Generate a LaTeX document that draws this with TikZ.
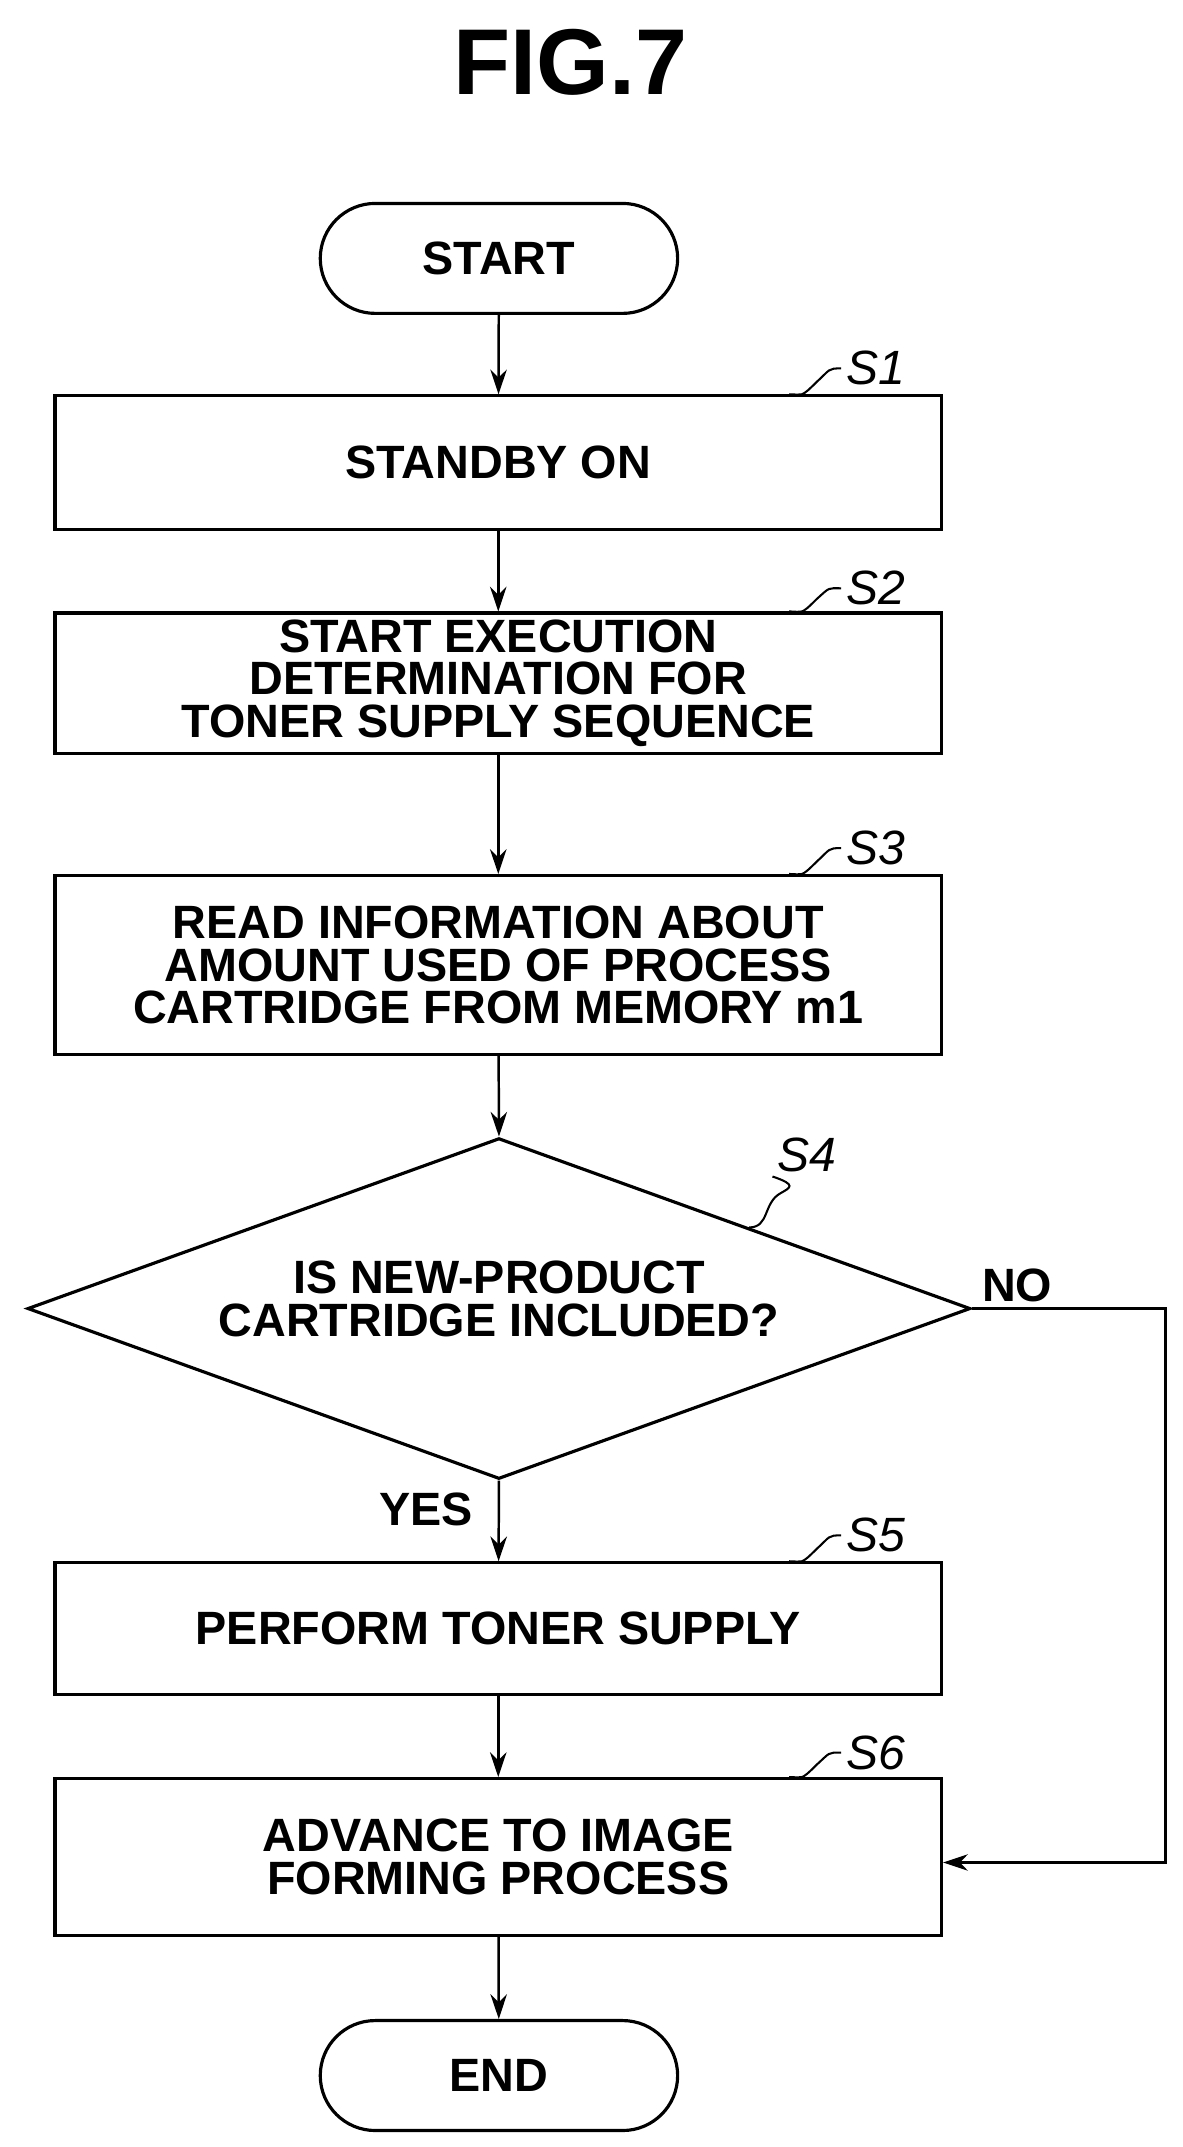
\documentclass[tikz,border=0pt]{standalone}
\usepackage{fontspec}
\setmainfont{Liberation Sans}
\usetikzlibrary{shapes.geometric,arrows.meta}
\begin{document}
\begin{tikzpicture}[x=1pt,y=-1pt,
  every node/.style={font=\fontsize{34}{31}\selectfont\bfseries, align=center},
  box/.style={draw, line width=2.3pt, minimum width=645pt, inner sep=0pt},
  term/.style={draw, line width=2.3pt, rounded corners=40pt, minimum width=260pt, minimum height=80pt},
  lab/.style={font=\fontsize{35}{36}\selectfont\itshape, anchor=west},
  arr/.style={line width=1.8pt, -{Stealth[length=18pt,width=12pt]}},
  sq/.style={line width=1.5pt}]
\useasboundingbox (0,0) rectangle (860,1562);
\node[font=\fontsize{68}{70}\selectfont\bfseries] (title) at (415,45) {FIG.7};
\node[term] (start) at (363,188) {START};
\node[box, minimum height=97pt] (s1) at (362.5,336.5) {STANDBY ON};
\node[box, minimum height=102pt] (s2) at (362.5,497) {START EXECUTION\\DETERMINATION FOR\\TONER SUPPLY SEQUENCE};
\node[box, minimum height=130pt] (s3) at (362.5,702) {READ INFORMATION ABOUT\\AMOUNT USED OF PROCESS\\CARTRIDGE FROM MEMORY m1};
\node[draw, line width=2.3pt, diamond, aspect=2.77, minimum width=686pt, minimum height=248pt, inner sep=0pt] (s4) at (363,952) {};
\node at (363,945) {IS NEW-PRODUCT\\CARTRIDGE INCLUDED?};
\node[box, minimum height=96pt] (s5) at (362.5,1185) {PERFORM TONER SUPPLY};
\node[box, minimum height=114pt] (s6) at (362.5,1351) {ADVANCE TO IMAGE\\FORMING PROCESS};
\node[term] (end) at (363,1510) {END};
\node (no) at (740,935) {NO};
\node (yes) at (310,1098) {YES};
\node[lab] (l1) at (612,268) {S1};
\node[lab] (l2) at (612,428) {S2};
\node[lab] (l3) at (612,617) {S3};
\node[lab] (l4) at (562,840) {S4};
\node[lab] (l5) at (612,1117) {S5};
\node[lab] (l6) at (612,1275) {S6};
\foreach \b/\l in {s1/l1,s2/l2,s3/l3,s5/l5,s6/l6}{
  \draw[sq] ([xshift=-112pt]\b.north east) .. controls +(10,0) and +(-12,12) .. ++(20,-9) .. controls +(10,-9) and +(-10,0) .. (\l.west);}
\draw[sq] (545,893) .. controls (560,893) and (555,875) .. (568,868) .. controls (575,864) and (580,862) .. (l4.south west);
\draw[arr] (start) -- (s1);
\draw[arr] (s1) -- (s2);
\draw[arr] (s2) -- (s3);
\draw[arr] (s3) -- (s4.north);
\draw[arr] (s4.south) -- (s5);
\draw[arr] (s5) -- (s6);
\draw[arr] (s6) -- (end);
\draw[arr] (s4.east) -- (848,952) -- (848,1355) -- (s6.east |- 0,1355);
\end{tikzpicture}
\end{document}
